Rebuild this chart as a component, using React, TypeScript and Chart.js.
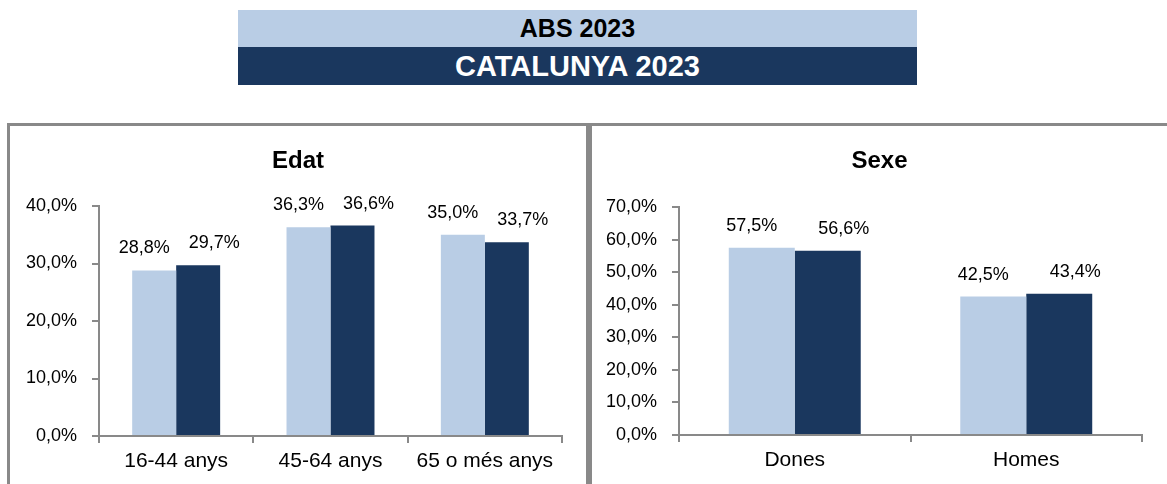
import React, { useEffect, useRef } from "react";
import { Chart, registerables } from "chart.js";

Chart.register(...registerables);

const headerTop = "ABS 2023";
const headerBottom = "CATALUNYA 2023";

const ageTitle = "Edat";
const ageCategories = ["16-44 anys", "45-64 anys", "65 o més anys"];
const ageABS = [28.8, 36.3, 35.0];
const ageCAT = [29.7, 36.6, 33.7];
const ageMax = 40;

const sexTitle = "Sexe";
const sexCategories = ["Dones", "Homes"];
const sexABS = [57.5, 42.5];
const sexCAT = [56.6, 43.4];
const sexMax = 70;

const seriesNames = ["ABS 2023", "CATALUNYA 2023"];

const LIGHT = "#B9CDE5";
const DARK = "#1A375E";
const GRAY = "#898989";
const FONT = "'Liberation Sans', Arial, sans-serif";

const fmt = (v: number) => v.toFixed(1).replace(".", ",") + "%";

const labelPlugin = {
  id: "barLabels",
  afterDatasetsDraw(chart: any) {
    const ctx = chart.ctx;
    const dxs = [-10, 16];
    ctx.save();
    ctx.font = `18px ${FONT}`;
    ctx.fillStyle = "#000";
    ctx.textAlign = "center";
    ctx.textBaseline = "middle";
    chart.data.datasets.forEach((ds: any, i: number) => {
      const meta = chart.getDatasetMeta(i);
      meta.data.forEach((el: any, j: number) => {
        ctx.fillText(fmt(ds.data[j]), el.x + dxs[i], el.y - 22);
      });
    });
    ctx.restore();
  },
};

const panelTitlePlugin = {
  id: "panelTitle",
  afterDraw(chart: any, _args: any, opts: any) {
    const ctx = chart.ctx;
    ctx.save();
    ctx.font = `bold 24px ${FONT}`;
    ctx.fillStyle = "#000";
    ctx.textAlign = "center";
    ctx.textBaseline = "middle";
    ctx.fillText(opts.text, chart.width / 2, opts.y);
    ctx.restore();
  },
};

type Cfg = {
  title: string;
  categories: string[];
  abs: number[];
  cat: number[];
  max: number;
  yWidth: number;
  xHeight: number;
  padRight: number;
  padTop: number;
};

function BarChart(props: Cfg & { style: React.CSSProperties }) {
  const ref = useRef<HTMLCanvasElement>(null);
  useEffect(() => {
    if (!ref.current) return;
    const chart = new Chart(ref.current, {
      type: "bar",
      data: {
        labels: props.categories,
        datasets: [
          { label: seriesNames[0], data: props.abs, backgroundColor: LIGHT },
          { label: seriesNames[1], data: props.cat, backgroundColor: DARK },
        ],
      },
      options: {
        responsive: false,
        animation: false,
        maintainAspectRatio: false,
        layout: { padding: { left: 0, right: props.padRight, top: props.padTop, bottom: 0 } },
        datasets: { bar: { categoryPercentage: 0.57, barPercentage: 1 } },
        plugins: {
          legend: { display: false },
          tooltip: { enabled: false },
          title: { display: false },
          panelTitle: { text: props.title, y: 35 },
        },
        scales: {
          x: {
            offset: true,
            grid: {
              display: true,
              offset: true,
              drawOnChartArea: false,
              drawTicks: true,
              tickLength: 7,
              color: GRAY,
              lineWidth: 2,
            },
            border: { display: true, color: GRAY, width: 2 },
            ticks: { color: "#000", font: { family: FONT, size: 21 }, padding: 6, maxRotation: 0 },
            afterFit: (s: any) => {
              s.height = props.xHeight;
            },
          },
          y: {
            min: 0,
            max: props.max,
            grid: {
              display: true,
              drawOnChartArea: false,
              drawTicks: true,
              tickLength: 7,
              color: GRAY,
              lineWidth: 2,
            },
            border: { display: true, color: GRAY, width: 2 },
            ticks: {
              stepSize: 10,
              color: "#000",
              font: { family: FONT, size: 18 },
              padding: 15,
              callback: (v: any) => fmt(Number(v)),
            },
            afterFit: (s: any) => {
              s.width = props.yWidth;
            },
          },
        },
      },
      plugins: [labelPlugin, panelTitlePlugin],
    } as any);
    return () => chart.destroy();
  }, []);
  const w = props.style.width as number;
  const h = props.style.height as number;
  return <canvas ref={ref} width={w} height={h} style={props.style} />;
}

export default function App() {
  return (
    <div
      style={{
        position: "absolute",
        left: 0,
        top: 0,
        width: 1167,
        height: 484,
        overflow: "hidden",
        background: "#fff",
        fontFamily: FONT,
      }}
    >
      <div
        style={{
          position: "absolute",
          left: 238,
          top: 10,
          width: 679,
          height: 37,
          background: LIGHT,
          color: "#000",
          fontWeight: "bold",
          fontSize: 25,
          lineHeight: "37px",
          textAlign: "center",
        }}
      >
        {headerTop}
      </div>
      <div
        style={{
          position: "absolute",
          left: 238,
          top: 47,
          width: 679,
          height: 38,
          background: DARK,
          color: "#fff",
          fontWeight: "bold",
          fontSize: 29,
          lineHeight: "38px",
          textAlign: "center",
        }}
      >
        {headerBottom}
      </div>
      <div
        style={{
          position: "absolute",
          left: 7,
          top: 123,
          width: 582,
          height: 400,
          boxSizing: "border-box",
          border: `3px solid ${GRAY}`,
        }}
      />
      <div
        style={{
          position: "absolute",
          left: 589,
          top: 123,
          width: 620,
          height: 400,
          boxSizing: "border-box",
          border: `3px solid ${GRAY}`,
        }}
      />
      <BarChart
        title={ageTitle}
        categories={ageCategories}
        abs={ageABS}
        cat={ageCAT}
        max={ageMax}
        yWidth={89}
        xHeight={48}
        padRight={24}
        padTop={80}
        style={{ position: "absolute", left: 10, top: 126, width: 576, height: 358 }}
      />
      <BarChart
        title={sexTitle}
        categories={sexCategories}
        abs={sexABS}
        cat={sexCAT}
        max={sexMax}
        yWidth={87}
        xHeight={49}
        padRight={25}
        padTop={81}
        style={{ position: "absolute", left: 592, top: 126, width: 575, height: 358 }}
      />
    </div>
  );
}
